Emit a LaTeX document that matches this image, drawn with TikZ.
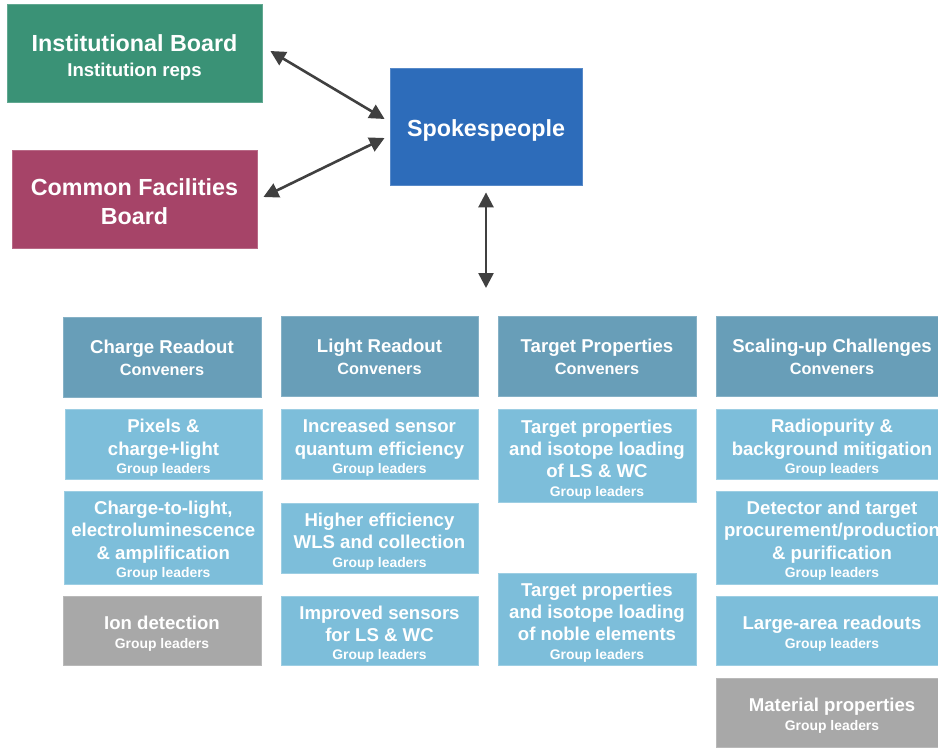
\documentclass[tikz,border=0pt]{standalone}
\usepackage{fontspec}
\setmainfont{Liberation Sans}
\usetikzlibrary{arrows.meta}
\definecolor{ibgreen}{HTML}{3A9276}
\definecolor{cfmag}{HTML}{A64468}
\definecolor{spblue}{HTML}{2D6CBA}
\definecolor{hdblue}{HTML}{689EB8}
\definecolor{ltblue}{HTML}{7DBEDA}
\definecolor{grbox}{HTML}{A8A8A8}
\definecolor{arrgray}{HTML}{404040}
\newcommand\glead{\\[-3.8pt]{\fontsize{13.9}{16}\selectfont Group leaders}}
\newcommand\convn{\\{\fontsize{16.3}{19}\selectfont Conveners}}
\newcommand\toppush[1]{\rule{0pt}{#1}}
\begin{document}
\begin{tikzpicture}[x=1pt,y=-1pt,
  box/.style={rectangle, inner sep=0pt, text=white, font=\bfseries\fontsize{18.6}{22.3}\selectfont, align=center, line width=0.8pt},
  big/.style={box, font=\bfseries\fontsize{23.3}{29}\selectfont},
  hd/.style={box, fill=hdblue, draw=hdblue!80!white, minimum height=80pt},
  lt/.style={box, fill=ltblue, draw=ltblue!75!white},
  gy/.style={box, fill=grbox, draw=grbox!80!white},
  arr/.style={arrgray, line width=2.6pt, {Triangle[length=15pt,width=15pt]}-{Triangle[length=15pt,width=15pt]}}
]
\clip (0,0) rectangle (938,749);
\fill[white] (0,0) rectangle (938,749);

% top
\node[big, fill=ibgreen, draw=ibgreen!80!white, minimum width=255pt, minimum height=98pt] (ib) at (134.5,53)
  {\toppush{25.5pt}Institutional Board\\[-4.5pt]{\fontsize{18.6}{22}\selectfont Institution reps}};
\node[big, fill=cfmag, draw=cfmag!80!white, minimum width=245pt, minimum height=98pt] (cfb) at (134.5,199)
  {\toppush{22pt}Common Facilities\\Board};
\node[big, fill=spblue, draw=spblue!80!white, minimum width=192pt, minimum height=117pt] (sp) at (486,126.5)
  {\toppush{25pt}Spokespeople};

% headers
\node[hd, minimum width=198pt] (cr) at (162,357) {\toppush{15.8pt}Charge Readout\convn};
\node[hd, minimum width=197pt] (lr) at (379.5,356) {\toppush{15.8pt}Light Readout\convn};
\node[hd, minimum width=198pt] (tp) at (597,356) {\toppush{15.8pt}Target Properties\convn};
\node[hd, minimum width=232pt] (su) at (832,356) {\toppush{15.8pt}Scaling-up Challenges\convn};

% column 1
\node[lt, minimum width=197pt, minimum height=70pt] (pix) at (163.5,444) {\toppush{21.5pt}Pixels \&\\charge+light\glead};
\node[lt, minimum width=198pt, minimum height=93pt] (ctl) at (163.3,537.5) {\toppush{20pt}Charge-to-light,\\electroluminescence\\\& amplification\glead};
\node[gy, minimum width=198pt, minimum height=69pt] (ion) at (162,630.5) {\toppush{20pt}Ion detection\glead};

% column 2
\node[lt, minimum width=197pt, minimum height=70pt] (isq) at (379.5,444) {\toppush{21.5pt}Increased sensor\\quantum efficiency\glead};
\node[lt, minimum width=197pt, minimum height=70pt] (hew) at (379.5,538) {\toppush{21pt}Higher efficiency\\WLS and collection\glead};
\node[lt, minimum width=197pt, minimum height=69pt] (imp) at (379.5,630.5) {\toppush{21pt}Improved sensors\\for LS \& WC\glead};

% column 3
\node[lt, minimum width=198pt, minimum height=93pt] (tls) at (597,455.5) {\toppush{21.5pt}Target properties\\and isotope loading\\of LS \& WC\glead};
\node[lt, minimum width=198pt, minimum height=92pt] (tnb) at (597,619) {\toppush{20.5pt}Target properties\\and isotope loading\\of noble elements\glead};

% column 4
\node[lt, minimum width=232pt, minimum height=70pt] (rad) at (832,444) {\toppush{21.5pt}Radiopurity \&\\background mitigation\glead};
\node[lt, minimum width=232pt, minimum height=93pt] (det) at (832,537.5) {\toppush{20pt}Detector and target\\procurement/production\\\& purification\glead};
\node[lt, minimum width=232pt, minimum height=69pt] (lar) at (832,630.5) {\toppush{20pt}Large-area readouts\glead};
\node[gy, minimum width=232pt, minimum height=69pt] (mat) at (832,712.5) {\toppush{20pt}Material properties\glead};

% arrows
\draw[arr] ([xshift=8pt,yshift=2pt]ib.east) -- ([xshift=-5pt,yshift=7.5pt]sp.west);
\draw[arr] ([xshift=6pt,yshift=2pt]cfb.east) -- ([xshift=-5pt,yshift=-11.5pt]sp.west);
\coordinate (vend) at (486,288);
\draw[arr] ([yshift=-7pt]sp.south) -- (vend);
\end{tikzpicture}
\end{document}
